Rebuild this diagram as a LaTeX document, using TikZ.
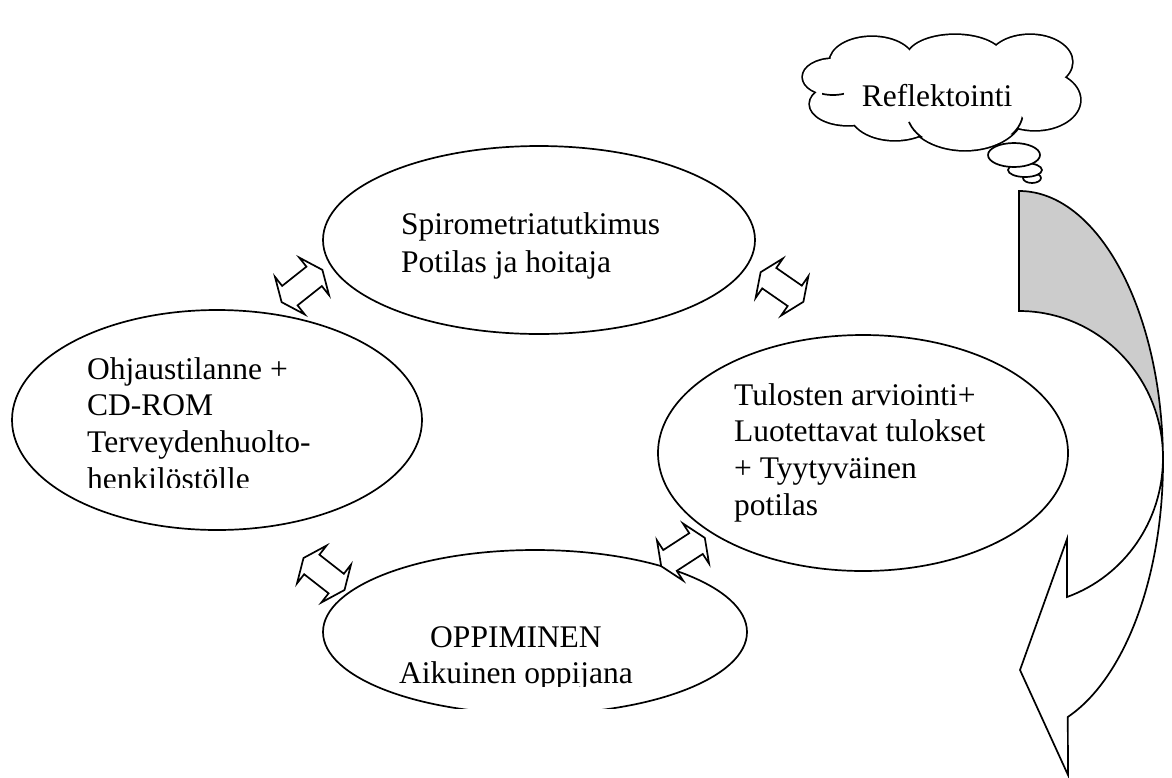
\documentclass[tikz,border=0pt]{standalone}
\usepackage{fontspec}
\setmainfont{Liberation Serif}
\usetikzlibrary{shapes.geometric}
% rows of a text block; the block's baseline is that of its first row
\newcommand{\leftrows}[1]{\begin{tabular}[t]{@{}l@{}}#1\end{tabular}}
\newcommand{\centrerows}[1]{\begin{tabular}[t]{@{}c@{}}#1\end{tabular}}
\tikzset{
  inkline/.style={draw=black, line width=1.7pt},
  oval/.style={inkline, ellipse, inner sep=0pt, fill=white},
  txt/.style={font=\fontsize{31.5}{36.8}\selectfont, inner sep=0pt, anchor=base west},
  dblarrow/.pic={
    \draw[inkline, fill=white, line join=miter]
      (-26,0) -- (-15.5,24) -- (-15.5,12.4) -- (15.5,12.4) -- (15.5,24) -- (26,0)
      -- (15.5,-24) -- (15.5,-12.4) -- (-15.5,-12.4) -- (-15.5,-24) -- cycle;
  }
}
\begin{document}
\begin{tikzpicture}[x=1pt,y=-1pt]
\useasboundingbox (0,0) rectangle (1172,777);

% the four stages of the cycle
\node[oval, minimum width=432pt, minimum height=188pt] (spiro) at (539,240) {};
\node[oval, minimum width=410pt, minimum height=220pt] (ohjaus) at (217,420) {};
\node[oval, minimum width=410pt, minimum height=236pt] (tulos) at (863,453) {};
\begin{scope}
  \clip (0,0) rectangle (1172,708);
  \node[oval, minimum width=424pt, minimum height=164pt] (oppi) at (535,632) {};
\end{scope}

% texts
\node[txt, font=\fontsize{31.5}{38}\selectfont] (spirotxt) at (401,234)
  {\leftrows{Spirometriatutkimus\\Potilas ja hoitaja}};
\begin{scope}
  \clip (0,0) rectangle (1172,487);
  \node[txt] (ohjaustxt) at (87,379)
    {\leftrows{Ohjaustilanne +\\CD-ROM\\Terveydenhuolto-\\henkilöstölle}};
\end{scope}
\node[txt] (tulostxt) at (734,405)
  {\leftrows{Tulosten arviointi+\\Luotettavat tulokset\\+ Tyytyväinen\\potilas}};
\begin{scope}
  \clip (0,0) rectangle (1172,686);
  \node[txt, font=\fontsize{31.5}{36}\selectfont, anchor=base] (oppitxt) at (516,647)
    {\centrerows{OPPIMINEN\\Aikuinen oppijana}};
\end{scope}

% double arrows between the stages
\pic[rotate=38.4] at (302,286) {dblarrow};
\pic[rotate=-34.7] at (782,287) {dblarrow};
\pic[rotate=33] at (683,552) {dblarrow};
\pic[rotate=-38] at (324,574) {dblarrow};

% thought cloud
\def\puffs{833/77/30/18, 848/104/38/21, 895/112/45/28, 965/112/58/38,
  1035/100/45/30, 1030/62/42/27, 955/58/48/23, 872/62/42/25}
\foreach \cx/\cy/\rx/\ry in \puffs
  \draw[line width=3.4pt] (\cx,\cy) ellipse[x radius=\rx, y radius=\ry];
\foreach \cx/\cy/\rx/\ry in \puffs
  \fill[white] (\cx,\cy) ellipse[x radius=\rx, y radius=\ry];
\fill[white] (940,88) ellipse[x radius=105, y radius=35];
% short inner arcs at the notches
\foreach \nx/\ny/\cx/\cy/\rx/\ry in {833/94/833/77/30/18, 913/132/965/112/58/38,
  1014/124/965/112/58/38, 1066/96/1030/62/42/27}
{
  \begin{scope}
    \clip (\nx,\ny) circle[radius=11];
    \draw[line width=1.7pt] (\cx,\cy) ellipse[x radius=\rx, y radius=\ry];
  \end{scope}
}
\node[font=\fontsize{31.5}{36.8}\selectfont, inner sep=0pt, anchor=base] (refl) at (937,106) {Reflektointi};
% trailing bubbles
\draw[inkline, fill=white] (1032,178) ellipse[x radius=9, y radius=5];
\draw[inkline, fill=white] (1025,170) ellipse[x radius=17, y radius=7];
\draw[inkline, fill=white] (1014,155) ellipse[x radius=26, y radius=12];

% curved arrow: shaded back face, then the front face with its head
\draw[inkline, fill=black!20, line join=miter]
  (1019,191) arc[start angle=-90, end angle=0, x radius=144, y radius=271]
  -- (1163,458) arc[start angle=0, end angle=-90, x radius=144, y radius=147]
  -- cycle;
\draw[inkline, fill=white, line join=miter]
  (1163,462) arc[start angle=0, end angle=70.2, x radius=144, y radius=271]
  -- (1068,775) -- (1020,670) -- (1067,539) -- (1067,597)
  arc[start angle=70.5, end angle=0, x radius=144, y radius=147]
  -- cycle;
\end{tikzpicture}
\end{document}
